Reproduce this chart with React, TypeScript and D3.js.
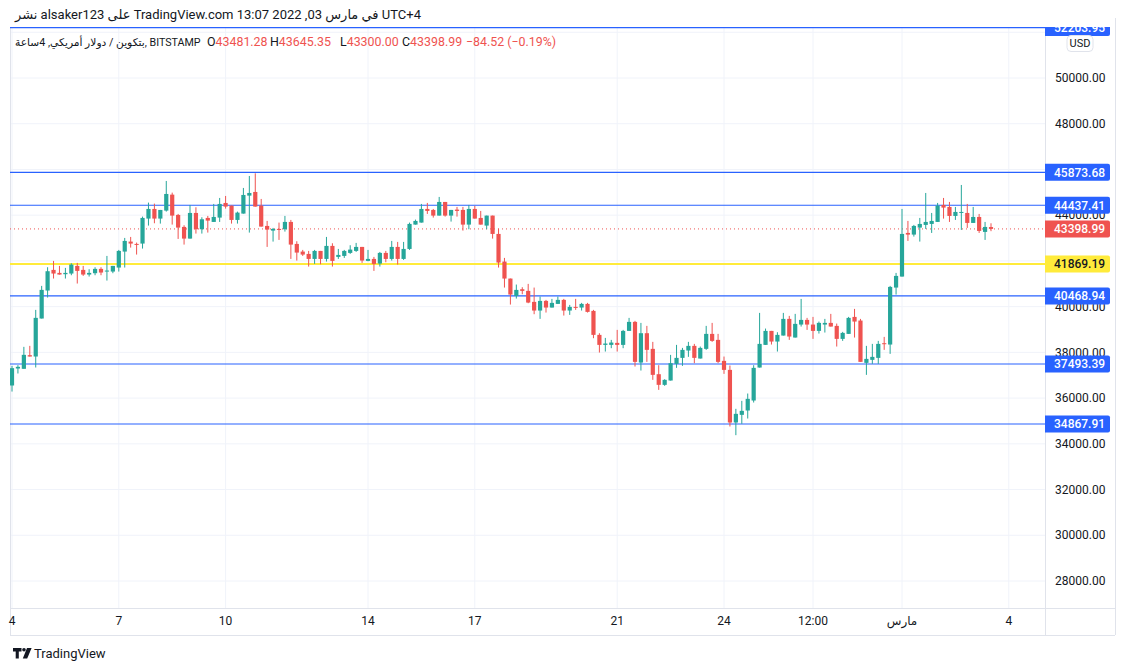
import React from "react";
import * as d3 from "d3";

// ---------- data (4h candles, BITSTAMP BTC/USD, from 4 Feb 2022 00:00 UTC+4) ----------
const candleStart = Date.UTC(2022, 1, 4, 0, 0);
const candleStepHours = 4;

const candleOpen = [
  36551, 37294, 37280, 37877, 37818, 39480, 40704, 41607, 41476, 41418,
  41447, 41782, 41607, 41403, 41462, 41651, 41534, 41534, 41709, 42408,
  42845, 42743, 42758, 43851, 44273, 43851, 44200, 44899, 44011, 43487,
  42976, 44098, 43384, 43880, 43705, 43894, 44535, 44419, 43792, 44069,
  44855, 45016, 44419, 43530, 43326, 43399, 43384, 43705, 42743, 42408,
  42306, 42087, 42437, 42087, 42656, 42175, 42219, 42350, 42437, 42612,
  42000, 42087, 41883, 42350, 42087, 42612, 42087, 42524, 43588, 43676,
  44273, 44230, 43982, 44579, 43982, 44244, 44230, 43588, 44273, 43880,
  43545, 43982, 43180, 41971, 41228, 40470, 40761, 40689, 40208, 39829,
  40251, 39960, 40120, 40295, 39829, 39989, 39960, 40120, 39814, 38765,
  38327, 38327, 38415, 38327, 38939, 39333, 37555, 38838, 38153, 37045,
  36579, 36768, 37497, 37759, 38080, 38284, 37730, 38153, 38808, 38546,
  37628, 37234, 34932, 35267, 35457, 35894, 37336, 38327, 38939, 38473,
  38735, 39464, 38648, 39216, 39420, 39216, 38939, 39216, 39289, 39158,
  38590, 38808, 39551, 39391, 37541, 37672, 37759, 38400, 38342, 40834,
  41315, 43224, 43151, 43457, 43574, 43617, 43705, 44448, 44360, 43967,
  44098, 44098, 43661, 43923, 43268, 43481.28,
];
const candleHigh = [
  37410, 37440, 38241, 38284, 39858, 40908, 41724, 42000, 41782, 41694,
  41898, 41913, 41782, 41636, 41724, 41724, 42218, 41782, 42481, 43005,
  43049, 42802, 43938, 44550, 44506, 44229, 45497, 44986, 44055, 43559,
  44448, 44346, 43909, 43967, 44492, 44754, 44841, 44419, 44156, 45191,
  45715, 45832, 44710, 43749, 43443, 43676, 43967, 43792, 42860, 42481,
  42437, 42481, 42437, 43049, 42772, 42524, 42481, 42685, 42787, 42612,
  42481, 42175, 42393, 42437, 42874, 42831, 42831, 43676, 43807, 44492,
  44536, 44273, 44798, 44579, 44230, 44361, 44361, 44448, 44404, 44186,
  43982, 43982, 43413, 42131, 41228, 40966, 40849, 40995, 40834, 40441,
  40295, 40339, 40440, 40339, 40076, 40339, 40164, 40164, 39858, 38837,
  38633, 38546, 38983, 38983, 39508, 39377, 39289, 39158, 38459, 37439,
  36826, 37890, 38327, 38196, 38459, 38371, 38255, 39158, 39289, 38808,
  37817, 37424, 35530, 35879, 36200, 37439, 39726, 39041, 38939, 38881,
  39726, 39595, 39683, 40338, 39508, 39551, 39347, 39464, 39683, 39260,
  38896, 39551, 39901, 39464, 38284, 38371, 38502, 38677, 40907, 41475,
  44273, 43749, 43574, 43880, 44972, 44098, 44535, 44754, 44579, 44360,
  45322, 44492, 44360, 44055, 43705, 43645.35,
];
const candleLow = [
  36286, 37076, 37280, 37818, 37338, 39480, 40398, 41228, 41403, 41228,
  41374, 41010, 41345, 41316, 41374, 41374, 41141, 41462, 41534, 41709,
  42583, 42277, 42539, 43545, 43647, 43632, 44156, 43589, 42961, 42714,
  42976, 43195, 43195, 43239, 43705, 43705, 44288, 43632, 43632, 44069,
  43239, 44375, 43501, 42612, 42845, 42918, 43282, 42087, 42014, 42218,
  41752, 41869, 41854, 41971, 41752, 42087, 42131, 42306, 42393, 41913,
  41985, 41563, 41752, 41942, 42015, 41840, 42044, 42481, 43588, 43676,
  44055, 43894, 43982, 43938, 43720, 43938, 43326, 43384, 43851, 43588,
  43384, 42976, 41709, 40834, 40091, 40353, 40543, 40149, 39669, 39465,
  39741, 39960, 40120, 39610, 39639, 39858, 39829, 39741, 38619, 37992,
  38036, 38182, 38036, 38182, 38939, 37380, 37205, 37584, 36797, 36360,
  36535, 36768, 37322, 37409, 37803, 37526, 37730, 38109, 38459, 37526,
  37060, 34757, 34378, 34874, 35107, 35806, 37336, 38327, 38342, 38036,
  38735, 38546, 38648, 39129, 38983, 38590, 38823, 38867, 39129, 38255,
  38502, 38808, 38648, 37584, 37016, 37497, 37497, 38109, 37934, 40528,
  41315, 42874, 43064, 42845, 43399, 43224, 43705, 43850, 43705, 43792,
  43355, 43442, 43661, 43224, 42918, 43300.0,
];
const candleClose = [
  37309, 37367, 37892, 37818, 39509, 40733, 41549, 41447, 41403, 41476,
  41840, 41563, 41403, 41476, 41651, 41491, 41578, 41782, 42437, 42874,
  42758, 42699, 43880, 44273, 43851, 44229, 44928, 43982, 43457, 42976,
  44098, 43384, 43821, 43763, 43924, 44492, 44375, 43792, 44113, 44885,
  44972, 44375, 43501, 43370, 43399, 43355, 43705, 42714, 42364, 42277,
  42087, 42437, 42087, 42656, 42000, 42262, 42437, 42495, 42612, 42015,
  42087, 41869, 42350, 42087, 42612, 42087, 42524, 43618, 43749, 44273,
  44186, 43982, 44579, 43982, 44230, 44186, 43588, 44273, 43851, 43588,
  43982, 43180, 41927, 41228, 40528, 40732, 40689, 40178, 39829, 40251,
  39960, 40164, 40295, 39829, 39989, 39945, 40120, 39770, 38765, 38327,
  38386, 38429, 38327, 38939, 39333, 37584, 38838, 38109, 37016, 36579,
  36797, 37526, 37759, 38109, 38284, 37759, 38196, 38808, 38502, 37584,
  37234, 34932, 35311, 35442, 35967, 37322, 38371, 38939, 38473, 38765,
  39464, 38692, 39246, 39420, 39216, 38939, 39289, 39289, 39129, 38590,
  38852, 39508, 39347, 37584, 37715, 37803, 38371, 38357, 40863, 41344,
  43180, 43151, 43530, 43617, 43705, 43749, 44419, 44331, 43967, 44142,
  44142, 43661, 43923, 43311, 43486, 43398.99,
];

// horizontal levels drawn on the chart
const blueLevels = [52203.95, 45873.68, 44437.41, 40468.94, 37493.39, 34867.91];
const yellowLevels = [41869.19];
const lastPrice = 43398.99;

// axis ticks
const priceTicks = [28000, 30000, 32000, 34000, 36000, 38000, 40000, 42000, 44000, 46000, 48000, 50000, 52000];
const timeTickDates = [
  Date.UTC(2022, 1, 4), Date.UTC(2022, 1, 7), Date.UTC(2022, 1, 10), Date.UTC(2022, 1, 14),
  Date.UTC(2022, 1, 17), Date.UTC(2022, 1, 21), Date.UTC(2022, 1, 24), Date.UTC(2022, 1, 26, 12),
  Date.UTC(2022, 2, 1), Date.UTC(2022, 2, 4),
];
const timeTickLabels = ["4", "7", "10", "14", "17", "21", "24", "12:00", "مارس", "4"];

const headerLine1 = "نشر alsaker123 على TradingView.com في مارس 03, 2022 13:07 UTC+4";
const symbolTitle = "بتكوين / دولار أمريكي, 4ساعة, BITSTAMP";
const ohlcKeys = ["O", "H", "L", "C"];
const ohlcValues = ["43481.28", "43645.35", "43300.00", "43398.99"];
const changeText = "−84.52 (−0.19%)";

// ---------- layout ----------
const W = 1125;
const H = 671;
const paneLeft = 10;
const paneRight = 1045;
const paneTop = 27;
const paneBottom = 608;
const frameRight = 1115;
const frameBottom = 635;
const legendX = [207, 270, 340, 402];
const changeX = 466;

const UP = "#26a69a";
const DOWN = "#ef5350";
const BLUE = "#2962ff";
const YELLOW = "#ffeb3b";
const TEXT = "#131722";
const GRID = "#f0f3fa";
const BORDER = "#e0e3eb";
const FONT = "Roboto, 'Noto Sans', 'DejaVu Sans', sans-serif";

export default function App() {
  const x = d3
    .scaleUtc()
    .domain([new Date(Date.UTC(2022, 1, 4)), new Date(Date.UTC(2022, 2, 4))])
    .range([12, 12 + 35.6 * 28]);
  const y = d3.scaleLinear().domain([28000, 50000]).range([581, 78]);

  const candles = candleOpen.map((o, i) => ({
    t: new Date(candleStart + i * candleStepHours * 3600 * 1000),
    o,
    h: candleHigh[i],
    l: candleLow[i],
    c: candleClose[i],
  }));
  const bw = 4.2;

  const fmt = d3.format(".2f");

  const boxCenters = [...blueLevels, ...yellowLevels, lastPrice].map((p) => y(p));
  const visibleTicks = priceTicks.filter((p) => boxCenters.every((c) => Math.abs(c - y(p)) > 7));

  const boxPath = (p: number) =>
    `M${paneRight},${y(p) - 8.5} h63 a2,2 0 0 1 2,2 v13 a2,2 0 0 1 -2,2 h-63 z`;

  return (
    <svg
      width={W}
      height={H}
      viewBox={`0 0 ${W} ${H}`}
      style={{ position: "absolute", left: 0, top: 0, background: "#fff" }}
      fontFamily={FONT}
    >
      <rect x={0} y={0} width={W} height={H} fill="#ffffff" />
      <defs>
        <clipPath id="pane">
          <rect x={paneLeft} y={paneTop} width={paneRight - paneLeft} height={paneBottom - paneTop} />
        </clipPath>
        <clipPath id="axisPane">
          <rect x={paneRight} y={paneTop} width={frameRight - paneRight} height={paneBottom - paneTop} />
        </clipPath>
      </defs>

      {/* header */}
      <text x={15} y={19} fontSize={13} fill={TEXT}>
        {headerLine1}
      </text>

      {/* grid */}
      <g clipPath="url(#pane)">
        {priceTicks.map((p) => (
          <line key={"gh" + p} x1={paneLeft} x2={paneRight} y1={y(p)} y2={y(p)} stroke={GRID} strokeWidth={1} />
        ))}
        {timeTickDates.map((d, i) => (
          <line key={"gv" + i} x1={x(new Date(d))} x2={x(new Date(d))} y1={paneTop} y2={paneBottom} stroke={GRID} strokeWidth={1} />
        ))}
      </g>

      {/* frame */}
      <g fill="none" stroke={BORDER} strokeWidth={1} shapeRendering="crispEdges">
        <line x1={paneLeft} x2={paneLeft} y1={paneTop} y2={frameBottom} />
        <line x1={frameRight} x2={frameRight} y1={18} y2={frameBottom} />
        <line x1={paneLeft} x2={frameRight} y1={frameBottom} y2={frameBottom} />
        <line x1={paneLeft} x2={frameRight} y1={paneBottom} y2={paneBottom} />
        <line x1={paneRight} x2={paneRight} y1={paneTop} y2={frameBottom} />
      </g>

      <g clipPath="url(#pane)">
        {/* levels */}
        {blueLevels.map((p) => (
          <line key={"bl" + p} x1={paneLeft} x2={paneRight} y1={y(p)} y2={y(p)} stroke={BLUE} strokeWidth={1.1} />
        ))}
        {yellowLevels.map((p) => (
          <line key={"yl" + p} x1={paneLeft} x2={paneRight} y1={y(p)} y2={y(p)} stroke={YELLOW} strokeWidth={2} />
        ))}
        <line x1={paneLeft} x2={paneRight} y1={y(lastPrice)} y2={y(lastPrice)} stroke={DOWN} strokeWidth={1} strokeDasharray="1 3" />

        {/* candles */}
        {candles.map((d, i) => {
          const cx = x(d.t);
          const col = d.c >= d.o ? UP : DOWN;
          const top = y(Math.max(d.o, d.c));
          const bot = y(Math.min(d.o, d.c));
          return (
            <g key={"c" + i}>
              <line x1={cx} x2={cx} y1={y(d.h)} y2={y(d.l)} stroke={col} strokeWidth={1} />
              <rect x={cx - bw / 2} y={top} width={bw} height={Math.max(1, bot - top)} fill={col} />
            </g>
          );
        })}
      </g>

      {/* legend line */}
      <text x={15} y={46} fontSize={10.7} fill={TEXT}>
        {symbolTitle}
      </text>
      {ohlcKeys.map((k, i) => (
        <text key={"lg" + k} x={legendX[i]} y={46} fontSize={12.4} fill={TEXT}>
          <tspan>{k}</tspan>
          <tspan fill={DOWN}>{ohlcValues[i]}</tspan>
        </text>
      ))}
      <text x={changeX} y={46} fontSize={12.4} fill={DOWN}>
        {changeText}
      </text>

      {/* price axis */}
      <g clipPath="url(#axisPane)">
        {visibleTicks.map((p) => (
          <text key={"pt" + p} x={1055} y={y(p)} dy="0.35em" fontSize={12} fill={TEXT}>
            {fmt(p)}
          </text>
        ))}
        {blueLevels.map((p) => (
          <g key={"pb" + p}>
            <path d={boxPath(p)} fill={BLUE} />
            <text x={1054} y={y(p)} dy="0.36em" fontSize={12} fill="#ffffff" fontWeight={500}>
              {fmt(p)}
            </text>
          </g>
        ))}
        {yellowLevels.map((p) => (
          <g key={"py" + p}>
            <path d={boxPath(p)} fill={YELLOW} />
            <text x={1054} y={y(p)} dy="0.36em" fontSize={12} fill={TEXT} fontWeight={500}>
              {fmt(p)}
            </text>
          </g>
        ))}
        <path d={boxPath(lastPrice)} fill={DOWN} />
        <text x={1054} y={y(lastPrice)} dy="0.36em" fontSize={12} fill="#ffffff" fontWeight={500}>
          {fmt(lastPrice)}
        </text>
      </g>

      {/* currency badge */}
      <rect x={1067} y={35.5} width={26} height={16} rx={4} fill="#fff" stroke={BORDER} />
      <text x={1080} y={43.5} dy="0.35em" fontSize={11} textAnchor="middle" fill={TEXT}>
        USD
      </text>

      {/* time axis */}
      {timeTickDates.map((d, i) => (
        <text key={"tt" + i} x={x(new Date(d))} y={621} dy="0.35em" fontSize={12} textAnchor="middle" fill={TEXT}>
          {timeTickLabels[i]}
        </text>
      ))}

      {/* TradingView logo */}
      <g fill={TEXT}>
        <path d="M13,648 h8.5 v3.6 h-2.7 v7 h-3.1 v-7 h-2.7 z" />
        <circle cx={24} cy={649.8} r={1.8} />
        <path d="M27,648 h4.6 l-4.4,10.6 h-4.4 z" />
      </g>
      <text x={34} y={658} fontSize={13} fill={TEXT}>
        TradingView
      </text>
    </svg>
  );
}
